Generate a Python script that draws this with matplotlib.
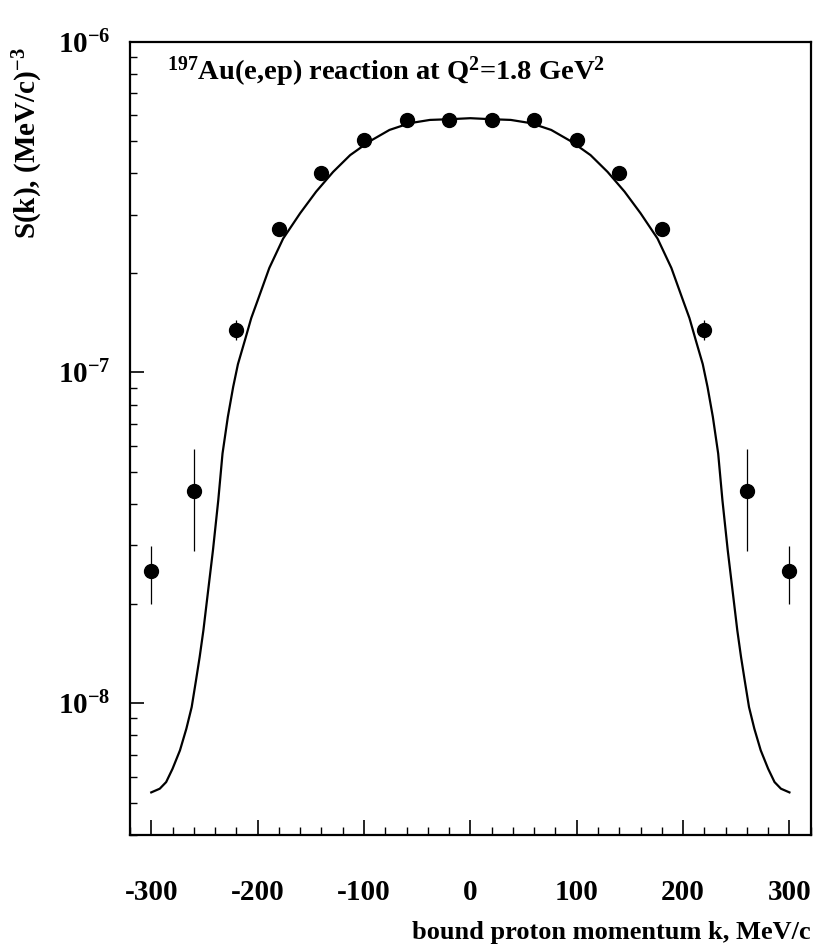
import matplotlib
matplotlib.use('Agg')
import matplotlib.pyplot as plt
from matplotlib.ticker import MultipleLocator, LogLocator, LogFormatterMathtext, NullFormatter, FuncFormatter

plt.rcParams['font.family'] = ['Liberation Serif', 'DejaVu Serif']
plt.rcParams['font.weight'] = 'bold'
plt.rcParams['mathtext.default'] = 'regular'

# measured points, S(k) in (MeV/c)^-3
k_data = [-300, -260, -220, -180, -140, -100, -60, -20, 20, 60, 100, 140, 180, 220, 260, 300]
s_data = [2.51e-8, 4.39e-8, 1.34e-7, 2.71e-7, 4.02e-7, 5.05e-7, 5.80e-7, 5.80e-7,
          5.80e-7, 5.80e-7, 5.05e-7, 4.02e-7, 2.71e-7, 1.34e-7, 4.39e-8, 2.51e-8]
s_hi = [2.98e-8, 5.86e-8, 1.44e-7, 2.78e-7, 4.10e-7, 5.12e-7, 5.87e-7, 5.87e-7,
        5.87e-7, 5.87e-7, 5.12e-7, 4.10e-7, 2.78e-7, 1.44e-7, 5.86e-8, 2.98e-8]
s_lo = [1.99e-8, 2.88e-8, 1.25e-7, 2.64e-7, 3.94e-7, 4.98e-7, 5.73e-7, 5.73e-7,
        5.73e-7, 5.73e-7, 4.98e-7, 3.94e-7, 2.64e-7, 1.25e-7, 2.88e-8, 1.99e-8]

# calculation curve
k_curve = [-300, -292, -286, -280, -273, -267, -262, -258, -254.5, -251, -248, -242, -237,
           -233, -228, -223, -218.5, -212, -206, -200, -189, -176, -160, -145, -129, -113,
           -95, -76, -57, -38, -19, 0,
           19, 38, 57, 76, 95, 113, 129, 145, 160, 176, 189, 200, 206, 212, 218.5, 223,
           228, 233, 237, 242, 248, 251, 254.5, 258, 262, 267, 273, 280, 286, 292, 300]
s_curve = [5.38e-9, 5.52e-9, 5.78e-9, 6.34e-9, 7.21e-9, 8.38e-9, 9.74e-9, 1.17e-8, 1.38e-8,
           1.66e-8, 2.00e-8, 2.90e-8, 4.11e-8, 5.69e-8, 7.34e-8, 9.04e-8, 1.06e-7, 1.25e-7,
           1.46e-7, 1.65e-7, 2.07e-7, 2.54e-7, 3.03e-7, 3.52e-7, 4.04e-7, 4.54e-7, 4.99e-7,
           5.41e-7, 5.67e-7, 5.80e-7, 5.83e-7, 5.87e-7,
           5.83e-7, 5.80e-7, 5.67e-7, 5.41e-7, 4.99e-7, 4.54e-7, 4.04e-7, 3.52e-7, 3.03e-7,
           2.54e-7, 2.07e-7, 1.65e-7, 1.46e-7, 1.25e-7, 1.06e-7, 9.04e-8, 7.34e-8, 5.69e-8,
           4.11e-8, 2.90e-8, 2.00e-8, 1.66e-8, 1.38e-8, 1.17e-8, 9.74e-9, 8.38e-9, 7.21e-9,
           6.34e-9, 5.78e-9, 5.52e-9, 5.38e-9]

fig = plt.figure(figsize=(8.17, 9.51), dpi=100)
ax = fig.add_axes([0.1591, 0.1220, 0.8332, 0.8342])

ax.plot(k_curve, s_curve, color='black', lw=1.6)
yerr = [[s - l for s, l in zip(s_data, s_lo)], [h - s for s, h in zip(s_data, s_hi)]]
ax.errorbar(k_data, s_data, yerr=yerr, fmt='o', color='black', ms=10,
            elinewidth=0.9, capsize=0)

ax.set_yscale('log')
ax.set_xlim(-320, 320)
ax.set_ylim(4e-9, 1e-6)

ax.xaxis.set_major_locator(MultipleLocator(100))
ax.xaxis.set_minor_locator(MultipleLocator(20))
ax.xaxis.set_major_formatter(FuncFormatter(lambda v, p: '%d' % v))
ax.yaxis.set_major_locator(LogLocator(base=10))
ax.yaxis.set_minor_locator(LogLocator(base=10, subs=range(2, 10)))
ax.yaxis.set_major_formatter(LogFormatterMathtext())
ax.yaxis.set_minor_formatter(NullFormatter())

ax.tick_params(axis='x', which='major', direction='in', length=11, width=1.2, pad=32, labelsize=21)
ax.tick_params(axis='x', which='minor', direction='in', length=6, width=1.0)
ax.tick_params(axis='y', which='major', direction='in', length=10, width=1.2, pad=14, labelsize=21)
ax.tick_params(axis='y', which='minor', direction='in', length=5, width=1.0)
for sp in ax.spines.values():
    sp.set_linewidth(1.6)

ax.set_xlabel('bound proton momentum k, MeV/c', fontsize=19, fontweight='bold', loc='right')
ax.xaxis.set_label_coords(1.0, -0.108)
ax.set_ylabel('S(k), (MeV/c)$^{-3}$', fontsize=21, fontweight='bold', loc='top')
ax.yaxis.set_label_coords(-0.125, 0.993)

ax.text(0.054, 0.962, '$^{197}$Au(e,ep) reaction at Q$^{2}$=1.8 GeV$^{2}$',
        transform=ax.transAxes, fontsize=20.5, fontweight='bold', ha='left', va='center')

fig.savefig('out.png', dpi=100)
